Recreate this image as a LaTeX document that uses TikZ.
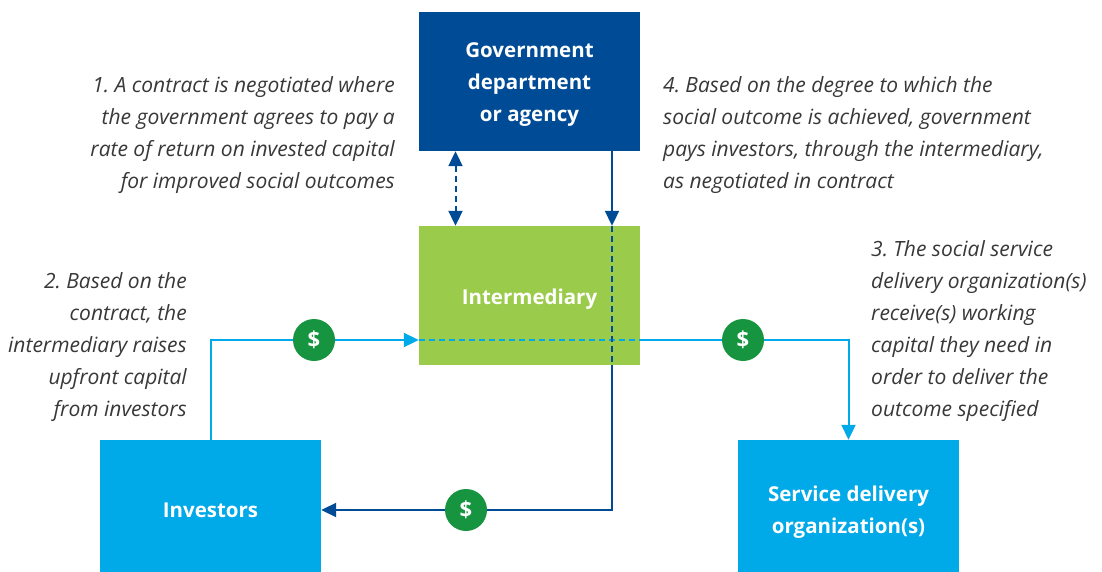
\documentclass[tikz,border=0pt]{standalone}
\usepackage{fontspec}
\setmainfont{Open Sans}
\usetikzlibrary{arrows.meta}
\definecolor{govblue}{HTML}{004B96}
\definecolor{skyb}{HTML}{00A9E7}
\definecolor{interg}{HTML}{9BCB4A}
\definecolor{dollarg}{HTML}{17943F}
\newcommand{\lowerline}[2]{\raisebox{-#1}[\height][\depth]{#2}}
\tikzset{
  boxnode/.style={minimum width=221pt,inner sep=0pt,align=center,text=white,font=\fontsize{20.5}{32}\selectfont\bfseries},
  dollar/.style={circle,fill=dollarg,minimum size=42pt,inner sep=0pt,text=white,font=\fontsize{22}{22}\selectfont\bfseries},
  note/.style={inner sep=0pt,text=black!78,font=\fontsize{21}{32}\selectfont\itshape},
  darkline/.style={draw=govblue,line width=2pt},
  skyline/.style={draw=skyb,line width=2pt},
  tip/.style={-{Triangle[length=15pt,width=14pt]}},
  tips/.style={{Triangle[length=15pt,width=14pt]}-{Triangle[length=15pt,width=14pt]}},
  dashinner/.style={dash pattern=on 6pt off 4pt}
}
\begin{document}
\frenchspacing
\begin{tikzpicture}[x=1pt,y=-1pt]
\useasboundingbox (0,0) rectangle (1102,572);
\node[boxnode,fill=govblue,minimum height=139pt] (gov) at (529.5,81.5) {\lowerline{3pt}{Government}\\\lowerline{3pt}{department}\\\lowerline{3pt}{or agency}};
\node[boxnode,fill=interg,minimum height=139pt] (inter) at (529.5,295.5) {\lowerline{4pt}{Intermediary}};
\node[boxnode,fill=skyb,minimum height=132pt] (inv) at (210.5,506) {\lowerline{4pt}{Investors}};
\node[boxnode,fill=skyb,minimum height=132pt] (svc) at (848.5,506) {\lowerline{6pt}{Service delivery}\\\lowerline{6pt}{organization(s)}};
% connector anchors
\coordinate (govA) at ([xshift=-74pt]gov.south);
\coordinate (intA) at ([xshift=-74pt]inter.north);
\coordinate (govB) at ([xshift=82.5pt]gov.south);
\coordinate (intB) at ([xshift=82.5pt]inter.north);
\coordinate (intBs) at ([xshift=82.5pt]inter.south);
\coordinate (invE) at ([yshift=-4pt]inv.east);
\coordinate (corner) at (intBs |- invE);
\coordinate (cornerNW) at (inv.north |- 0,340);
\coordinate (intW) at (inter.west |- 0,340);
\coordinate (intE) at (inter.east |- 0,340);
\coordinate (cornerNE) at (svc.north |- 0,340);
% light blue
\draw[skyline,tip] (inv.north) -- (cornerNW) -- (intW);
\draw[skyline,dashinner] (intW) -- (intE);
\draw[skyline,tip] (intE) -- (cornerNE) -- (svc.north);
% dark blue
\draw[darkline,dashinner,tips] (govA) -- (intA);
\draw[darkline,tip] (govB) -- (intB);
\draw[darkline,dashinner] (intB) -- (intBs);
\draw[darkline,tip] (intBs) -- (corner) -- (invE);
% dollars
\node[dollar] (d1) at (314,340) {\$};
\node[dollar] (d2) at (743,340) {\$};
\node[dollar] (d3) at (466,510) {\$};
% notes
\node[note,align=right,anchor=north east] (n1) at (395,76) {1. A contract is negotiated where\\the government agrees to pay a\\rate of return on invested capital\\for improved social outcomes};
\node[note,align=left,anchor=north west] (n4) at (663,76) {4. Based on the degree to which the\\social outcome is achieved, government\\pays investors, through the intermediary,\\as negotiated in contract};
\node[note,align=right,anchor=north east] (n2) at (187,272) {2. Based on the\\contract, the\\intermediary raises\\upfront capital\\from investors};
\node[note,align=left,anchor=north west] (n3) at (871,240) {3. The social service\\delivery organization(s)\\receive(s) working\\capital they need in\\order to deliver the\\outcome specified};
\end{tikzpicture}
\end{document}
